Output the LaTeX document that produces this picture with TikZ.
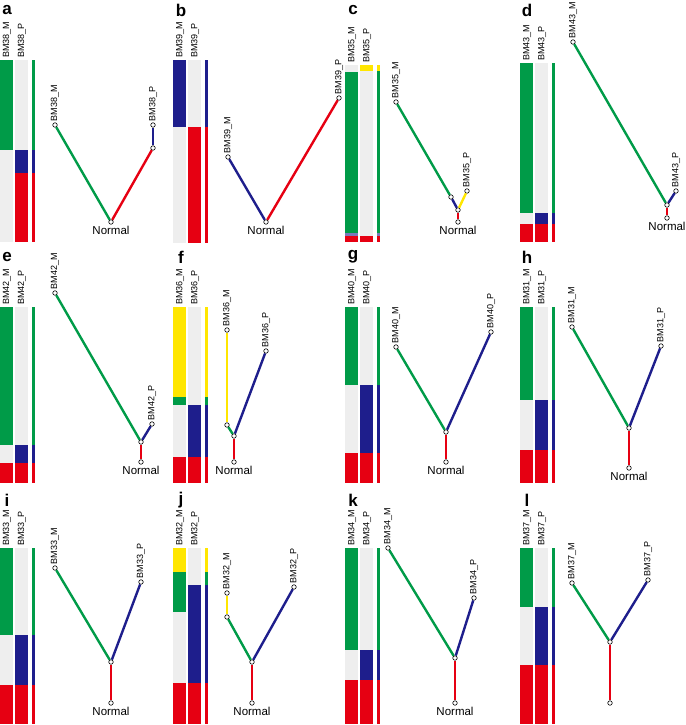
\documentclass[tikz,border=0pt]{standalone}
\usepackage{fontspec}
\setmainfont{Liberation Sans}
\definecolor{gr}{HTML}{009B48}
\definecolor{bl}{HTML}{1E1E8C}
\definecolor{rd}{HTML}{E60012}
\definecolor{ye}{HTML}{FFE600}
\definecolor{gy}{HTML}{EEEEEE}
\newcommand\colbar[3]{\foreach \a/\b/\c in {#3} {\fill[\c] (#1,\a) rectangle (#1+#2,\b);}}
\newcommand\heat[7]{%
 \colbar{#1}{13}{#3}\colbar{#1+15}{13}{#4}\colbar{#1+32}{3}{#5}%
 \node[lab] at (#1+7,#2-1) {#6};\node[lab] at (#1+22,#2-1) {#7};}
\begin{document}
\begin{tikzpicture}[x=1pt,y=-1pt,
 lab/.style={rotate=90,anchor=west,font=\fontsize{9}{10}\selectfont,inner sep=1pt},
 dot/.style={circle,draw=black,fill=white,inner sep=0pt,minimum size=4.5pt,line width=0.6pt},
 edge/.style={line width=2.4pt},
 nl/.style={font=\fontsize{11.5}{12}\selectfont,anchor=north,inner sep=1pt},
 pl/.style={font=\bfseries\fontsize{17}{18}\selectfont,anchor=center}]
\useasboundingbox (0,0) rectangle (685,725);
% ---------- a
\node[pl] (la) at (7,10) {a};
\heat{0}{60}{60/150/gr,150/242/gy}{60/150/gy,150/173/bl,173/242/rd}{60/150/gr,150/173/bl,173/242/rd}{BM38\_M}{BM38\_P}
\node[dot] (aM) at (55,125) {}; \node[dot] (aN) at (111,222) {};
\node[dot] (aJ) at (153,148) {}; \node[dot] (aP) at (153,125) {};
\draw[edge,gr] (aM)--(aN); \draw[edge,rd] (aN)--(aJ); \draw[edge,bl] (aJ)--(aP);
\node[lab] at (aM.north) {BM38\_M}; \node[lab] at (aP.north) {BM38\_P};
\node[nl] at (aN.south) {Normal};
% ---------- b
\node[pl] (lb) at (181,10) {b};
\heat{173}{60}{60/127/bl,127/243/gy}{60/127/gy,127/243/rd}{60/127/bl,127/243/rd}{BM39\_M}{BM39\_P}
\node[dot] (bM) at (228,157) {}; \node[dot] (bN) at (266,222) {}; \node[dot] (bP) at (339,98) {};
\draw[edge,bl] (bM)--(bN); \draw[edge,rd] (bN)--(bP);
\node[lab] at (bM.north) {BM39\_M}; \node[lab] at (bP.north) {BM39\_P};
\node[nl] at (bN.south) {Normal};
% ---------- c
\node[pl] (lc) at (353,10) {c};
\heat{345}{65}{65/72/gy,72/233/gr,233/236/bl!60,236/242/rd}{65/71/ye,71/236/gy,236/242/rd}{65/71/ye,71/233/gr,233/236/bl!60,236/242/rd}{BM35\_M}{BM35\_P}
\node[dot] (cM) at (396,102) {}; \node[dot] (cI) at (451,197) {};
\node[dot] (cJ) at (458,210) {}; \node[dot] (cN) at (458,222) {}; \node[dot] (cP) at (467,191) {};
\draw[edge,gr] (cM)--(cI); \draw[edge,bl] (cI)--(cJ); \draw[edge,ye] (cJ)--(cP); \draw[edge,rd] (cJ)--(cN);
\node[lab] at (cM.north) {BM35\_M}; \node[lab] at (cP.north) {BM35\_P};
\node[nl] at (cN.south) {Normal};
% ---------- d
\node[pl] (ld) at (527,10) {d};
\heat{520}{63}{63/213/gr,213/224/gy,224/242/rd}{63/213/gy,213/224/bl,224/242/rd}{63/213/gr,213/224/bl,224/242/rd}{BM43\_M}{BM43\_P}
\node[dot] (dM) at (573,42) {}; \node[dot] (dJ) at (667,205) {};
\node[dot] (dN) at (667,218) {}; \node[dot] (dP) at (676,191) {};
\draw[edge,gr] (dM)--(dJ); \draw[edge,bl] (dJ)--(dP); \draw[edge,rd] (dJ)--(dN);
\node[lab] at (dM.north) {BM43\_M}; \node[lab] at (dP.north) {BM43\_P};
\node[nl] at (dN.south) {Normal};
% ---------- e
\node[pl] (le) at (7,257) {e};
\heat{0}{307}{307/445/gr,445/463/gy,463/483/rd}{307/445/gy,445/463/bl,463/483/rd}{307/445/gr,445/463/bl,463/483/rd}{BM42\_M}{BM42\_P}
\node[dot] (eM) at (55,293) {}; \node[dot] (eJ) at (141,442) {};
\node[dot] (eN) at (141,462) {}; \node[dot] (eP) at (152,424) {};
\draw[edge,gr] (eM)--(eJ); \draw[edge,bl] (eJ)--(eP); \draw[edge,rd] (eJ)--(eN);
\node[lab] at (eM.north) {BM42\_M}; \node[lab] at (eP.north) {BM42\_P};
\node[nl] at (eN.south) {Normal};
% ---------- f
\node[pl] (lf) at (181,257) {f};
\heat{173}{307}{307/397/ye,397/405/gr,405/457/gy,457/483/rd}{307/405/gy,405/457/bl,457/483/rd}{307/397/ye,397/405/gr,405/457/bl,457/483/rd}{BM36\_M}{BM36\_P}
\node[dot] (fM) at (227,330) {}; \node[dot] (fI) at (227,425) {};
\node[dot] (fJ) at (234,436) {}; \node[dot] (fN) at (234,462) {}; \node[dot] (fP) at (266,351) {};
\draw[edge,ye] (fM)--(fI); \draw[edge,gr] (fI)--(fJ); \draw[edge,bl] (fJ)--(fP); \draw[edge,rd] (fJ)--(fN);
\node[lab] at (fM.north) {BM36\_M}; \node[lab] at (fP.north) {BM36\_P};
\node[nl] at (fN.south) {Normal};
% ---------- g
\node[pl] (lg) at (353,257) {g};
\heat{345}{307}{307/385/gr,385/453/gy,453/483/rd}{307/385/gy,385/453/bl,453/483/rd}{307/385/gr,385/453/bl,453/483/rd}{BM40\_M}{BM40\_P}
\node[dot] (gM) at (396,347) {}; \node[dot] (gJ) at (446,432) {};
\node[dot] (gN) at (446,462) {}; \node[dot] (gP) at (491,332) {};
\draw[edge,gr] (gM)--(gJ); \draw[edge,bl] (gJ)--(gP); \draw[edge,rd] (gJ)--(gN);
\node[lab] at (gM.north) {BM40\_M}; \node[lab] at (gP.north) {BM40\_P};
\node[nl] at (gN.south) {Normal};
% ---------- h
\node[pl] (lh) at (527,257) {h};
\heat{520}{307}{307/400/gr,400/450/gy,450/483/rd}{307/400/gy,400/450/bl,450/483/rd}{307/400/gr,400/450/bl,450/483/rd}{BM31\_M}{BM31\_P}
\node[dot] (hM) at (572,327) {}; \node[dot] (hJ) at (629,428) {};
\node[dot] (hN) at (629,468) {}; \node[dot] (hP) at (661,346) {};
\draw[edge,gr] (hM)--(hJ); \draw[edge,bl] (hJ)--(hP); \draw[edge,rd] (hJ)--(hN);
\node[lab] at (hM.north) {BM31\_M}; \node[lab] at (hP.north) {BM31\_P};
\node[nl] at (hN.south) {Normal};
% ---------- i
\node[pl] (li) at (7,500) {i};
\heat{0}{548}{548/635/gr,635/685/gy,685/724/rd}{548/635/gy,635/685/bl,685/724/rd}{548/635/gr,635/685/bl,685/724/rd}{BM33\_M}{BM33\_P}
\node[dot] (iM) at (55,568) {}; \node[dot] (iJ) at (111,662) {};
\node[dot] (iN) at (111,703) {}; \node[dot] (iP) at (141,582) {};
\draw[edge,gr] (iM)--(iJ); \draw[edge,bl] (iJ)--(iP); \draw[edge,rd] (iJ)--(iN);
\node[lab] at (iM.north) {BM33\_M}; \node[lab] at (iP.north) {BM33\_P};
\node[nl] at (iN.south) {Normal};
% ---------- j
\node[pl] (lj) at (181,500) {j};
\heat{173}{548}{548/572/ye,572/612/gr,612/683/gy,683/724/rd}{548/585/gy,585/683/bl,683/724/rd}{548/572/ye,572/585/gr,585/683/bl,683/724/rd}{BM32\_M}{BM32\_P}
\node[dot] (jM) at (227,593) {}; \node[dot] (jI) at (227,617) {};
\node[dot] (jJ) at (252,662) {}; \node[dot] (jN) at (252,703) {}; \node[dot] (jP) at (294,587) {};
\draw[edge,ye] (jM)--(jI); \draw[edge,gr] (jI)--(jJ); \draw[edge,bl] (jJ)--(jP); \draw[edge,rd] (jJ)--(jN);
\node[lab] at (jM.north) {BM32\_M}; \node[lab] at (jP.north) {BM32\_P};
\node[nl] at (jN.south) {Normal};
% ---------- k
\node[pl] (lk) at (353,500) {k};
\heat{345}{548}{548/650/gr,650/680/gy,680/724/rd}{548/650/gy,650/680/bl,680/724/rd}{548/650/gr,650/680/bl,680/724/rd}{BM34\_M}{BM34\_P}
\node[dot] (kM) at (388,548) {}; \node[dot] (kJ) at (455,658) {};
\node[dot] (kN) at (455,703) {}; \node[dot] (kP) at (474,598) {};
\draw[edge,gr] (kM)--(kJ); \draw[edge,bl] (kJ)--(kP); \draw[edge,rd] (kJ)--(kN);
\node[lab] at (kM.north) {BM34\_M}; \node[lab] at (kP.north) {BM34\_P};
\node[nl] at (kN.south) {Normal};
% ---------- l
\node[pl] (ll) at (527,500) {l};
\heat{520}{548}{548/607/gr,607/665/gy,665/724/rd}{548/607/gy,607/665/bl,665/724/rd}{548/607/gr,607/665/bl,665/724/rd}{BM37\_M}{BM37\_P}
\node[dot] (lM) at (572,583) {}; \node[dot] (lJ) at (610,642) {};
\node[dot] (lN) at (610,703) {}; \node[dot] (lP) at (648,580) {};
\draw[edge,gr] (lM)--(lJ); \draw[edge,bl] (lJ)--(lP); \draw[edge,rd] (lJ)--(lN);
\node[lab] at (lM.north) {BM37\_M}; \node[lab] at (lP.north) {BM37\_P};
\end{tikzpicture}
\end{document}
